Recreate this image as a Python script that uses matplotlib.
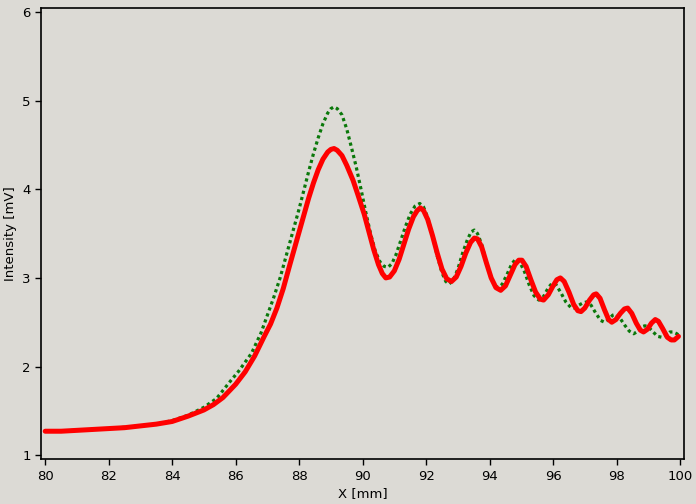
import matplotlib.pyplot as plt

# --- data ---
red_x = [80.0, 80.5, 81.0, 81.5, 82.0, 82.5, 83.0, 83.5, 84.0, 84.5, 85.0, 85.3, 85.6,
         86.0, 86.3, 86.6, 86.9, 87.1, 87.3, 87.5, 87.7, 87.85, 88.0, 88.15, 88.3,
         88.45, 88.6, 88.75, 88.9, 89.0, 89.1, 89.2, 89.35, 89.5, 89.7, 89.85, 90.05,
         90.2, 90.35, 90.5, 90.62, 90.73, 90.85, 91.0, 91.15, 91.3, 91.45, 91.6, 91.72,
         91.82, 91.92, 92.05, 92.2, 92.35, 92.5, 92.65, 92.8, 92.95, 93.1, 93.25, 93.4,
         93.52, 93.62, 93.75, 93.9, 94.05, 94.2, 94.35, 94.5, 94.65, 94.8, 94.92, 95.02,
         95.15, 95.3, 95.45, 95.6, 95.7, 95.85, 96.0, 96.12, 96.23, 96.35, 96.5, 96.65,
         96.78, 96.88, 97.0, 97.15, 97.28, 97.36, 97.48, 97.62, 97.75, 97.85, 97.98,
         98.12, 98.25, 98.35, 98.48, 98.62, 98.75, 98.85, 98.97, 99.1, 99.22, 99.32,
         99.45, 99.6, 99.72, 99.82, 99.95]
red_y = [1.27, 1.27, 1.28, 1.29, 1.30, 1.31, 1.33, 1.35, 1.38, 1.44, 1.51, 1.57, 1.65,
         1.80, 1.94, 2.12, 2.34, 2.48, 2.66, 2.88, 3.14, 3.33, 3.52, 3.71, 3.90,
         4.07, 4.22, 4.34, 4.42, 4.45, 4.46, 4.44, 4.38, 4.27, 4.10, 3.94, 3.72,
         3.52, 3.32, 3.15, 3.05, 3.00, 3.01, 3.08, 3.21, 3.38, 3.55, 3.69, 3.76,
         3.79, 3.76, 3.66, 3.48, 3.28, 3.10, 2.99, 2.96, 3.01, 3.13, 3.28, 3.40,
         3.45, 3.44, 3.35, 3.17, 3.00, 2.89, 2.86, 2.91, 3.03, 3.15, 3.20, 3.20,
         3.13, 2.98, 2.84, 2.76, 2.75, 2.81, 2.91, 2.98, 3.00, 2.96, 2.84, 2.70,
         2.63, 2.62, 2.66, 2.75, 2.81, 2.82, 2.77, 2.64, 2.53, 2.50, 2.53,
         2.60, 2.65, 2.66, 2.60, 2.49, 2.41, 2.39, 2.42, 2.49, 2.53, 2.51,
         2.43, 2.33, 2.30, 2.30, 2.34]

green_x = [80.0, 81.0, 82.0, 83.0, 83.5, 84.0, 84.5, 85.0, 85.4, 85.8, 86.1, 86.5, 86.8,
           87.0, 87.2, 87.4, 87.6, 87.8, 88.0, 88.15, 88.3, 88.45, 88.6, 88.75, 88.9,
           89.0, 89.1, 89.2, 89.35, 89.5, 89.65, 89.8, 89.95, 90.1, 90.25, 90.4, 90.55,
           90.68, 90.8, 90.92, 91.05, 91.2, 91.35, 91.5, 91.65, 91.8, 91.92, 92.05, 92.2,
           92.35, 92.5, 92.62, 92.72, 92.85, 93.0, 93.15, 93.3, 93.42, 93.52, 93.62, 93.75,
           93.9, 94.05, 94.18, 94.28, 94.4, 94.55, 94.7, 94.82, 94.95, 95.1, 95.25, 95.4,
           95.55, 95.7, 95.85, 95.97, 96.1, 96.25, 96.4, 96.55, 96.67, 96.8, 96.95, 97.07,
           97.2, 97.35, 97.5, 97.62, 97.75, 97.88, 97.98, 98.1, 98.25, 98.4, 98.54, 98.68,
           98.8, 98.9, 99.02, 99.15, 99.3, 99.43, 99.55, 99.68, 99.78, 99.9, 99.97]
green_y = [1.27, 1.28, 1.30, 1.33, 1.35, 1.39, 1.45, 1.54, 1.64, 1.82, 1.95, 2.15, 2.38,
           2.58, 2.78, 3.00, 3.26, 3.52, 3.78, 3.99, 4.20, 4.40, 4.58, 4.74, 4.86,
           4.91, 4.93, 4.91, 4.84, 4.68, 4.47, 4.25, 4.00, 3.74, 3.50, 3.30, 3.18,
           3.13, 3.12, 3.16, 3.26, 3.42, 3.58, 3.72, 3.81, 3.84, 3.80, 3.68, 3.48,
           3.25, 3.06, 2.96, 2.93, 2.97, 3.10, 3.28, 3.43, 3.52, 3.54, 3.50, 3.38,
           3.17, 3.00, 2.91, 2.89, 2.93, 3.04, 3.16, 3.21, 3.18, 3.07, 2.92, 2.80,
           2.75, 2.79, 2.89, 2.94, 2.92, 2.83, 2.73, 2.67, 2.66, 2.69, 2.72, 2.73,
           2.69, 2.60, 2.52, 2.50, 2.53, 2.58, 2.59, 2.55, 2.47, 2.40, 2.37, 2.40,
           2.45, 2.46, 2.44, 2.39, 2.34, 2.33, 2.35, 2.39, 2.39, 2.37, 2.35]

x_ticks = list(range(80, 101, 2))
y_ticks = [1, 2, 3, 4, 5, 6]

bg = '#dcdad5'

fig = plt.figure(figsize=(6.96, 5.04), dpi=100, facecolor=bg)
ax = fig.add_axes([0.059, 0.089, 0.924, 0.895], facecolor=bg)

ax.plot(green_x, green_y, color='#0a780a', lw=2.3, linestyle=(0, (1.0, 1.0)),
        dash_capstyle='butt')
ax.plot(red_x, red_y, color='#ff0000', lw=3.6, solid_joinstyle='round',
        solid_capstyle='round')

ax.set_xlim(79.87, 100.13)
ax.set_ylim(0.955, 6.045)
ax.set_xticks(x_ticks)
ax.set_yticks(y_ticks)
ax.tick_params(labelsize=9.5, length=4, width=1, direction='out', colors='black')
for s in ax.spines.values():
    s.set_linewidth(1.2)
    s.set_color('black')

ax.set_xlabel('X [mm]', fontsize=9.5, labelpad=3)
ax.set_ylabel('Intensity [mV]', fontsize=9.5, labelpad=4)

fig.savefig('out.png', dpi=100, facecolor=bg)
